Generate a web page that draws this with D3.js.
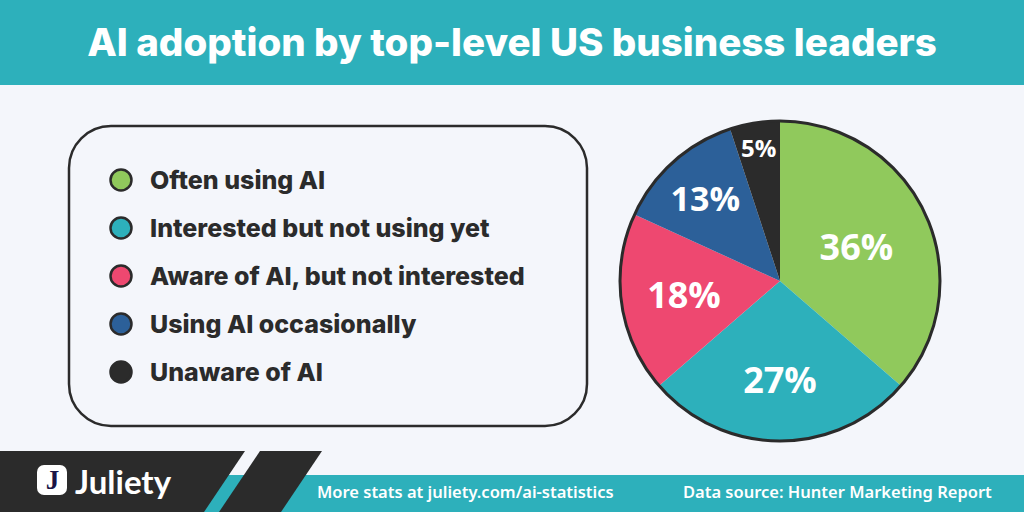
<!DOCTYPE html>
<html>
<head>
<meta charset="utf-8">
<script src="https://cdn.jsdelivr.net/npm/d3@7"></script>
<style>
  html, body { margin: 0; padding: 0; background: #f4f6fb; overflow: hidden; }
  svg { display: block; }
</style>
</head>
<body>
<svg id="chart" width="1024" height="512"></svg>
<script>
const categories = ["Often using AI", "Interested but not using yet", "Aware of AI, but not interested", "Using AI occasionally", "Unaware of AI"];
const shares = [36, 27, 18, 13, 5];
const colors = ["#90c95c", "#2db0bb", "#ee4870", "#2c6099", "#2b2b2b"];

const INK = "#2b2b2b";
const TEAL = "#2db0bb";
const center = { x: 780, y: 281 };
const radius = 160;
const labelRadius = [84, 98, 97, 112, 135];
const labelSize = [36, 36, 36, 34, 24];

const svg = d3.select("#chart");

// header
svg.append("rect").attr("width", 1024).attr("height", 85).attr("fill", TEAL);
svg.append("text")
  .attr("x", 512).attr("y", 56)
  .attr("text-anchor", "middle")
  .attr("font-family", "Inter, sans-serif")
  .attr("font-size", 38.5)
  .attr("font-weight", 800)
  .attr("fill", "#fff")
  .text("AI adoption by top-level US business leaders");

// legend box
svg.append("rect")
  .attr("x", 69).attr("y", 126)
  .attr("width", 518).attr("height", 300)
  .attr("rx", 42)
  .attr("fill", "none")
  .attr("stroke", INK)
  .attr("stroke-width", 2.5);

const rowY = d3.scalePoint().domain(categories).range([180, 372]);

const rows = svg.append("g").selectAll("g").data(categories).join("g")
  .attr("transform", d => `translate(0,${rowY(d)})`);
rows.append("circle")
  .attr("cx", 121).attr("r", 10.5)
  .attr("fill", (d, i) => colors[i])
  .attr("stroke", INK)
  .attr("stroke-width", 2.5);
rows.append("text")
  .attr("x", 150).attr("y", 9)
  .attr("font-family", "Inter, sans-serif")
  .attr("font-size", 25)
  .attr("font-weight", 800)
  .attr("fill", INK)
  .text(d => d);

// pie
const pie = d3.pie().sort(null).value(d => d);
const arc = d3.arc().innerRadius(0).outerRadius(radius);
const slices = pie(shares);
const pieG = svg.append("g").attr("transform", `translate(${center.x},${center.y})`);

pieG.selectAll("path").data(slices).join("path")
  .attr("d", arc)
  .attr("fill", (d, i) => colors[i]);
pieG.append("circle")
  .attr("r", radius)
  .attr("fill", "none")
  .attr("stroke", INK)
  .attr("stroke-width", 3);

pieG.selectAll("text").data(slices).join("text")
  .attr("transform", (d, i) => {
    const a = (d.startAngle + d.endAngle) / 2;
    return `translate(${labelRadius[i] * Math.sin(a)},${-labelRadius[i] * Math.cos(a)})`;
  })
  .attr("text-anchor", "middle")
  .attr("dominant-baseline", "central")
  .attr("font-family", "'Open Sans', sans-serif")
  .attr("font-size", (d, i) => labelSize[i])
  .attr("font-weight", 700)
  .attr("fill", "#fff")
  .text(d => d.value + "%");

// footer
svg.append("rect").attr("x", 0).attr("y", 475).attr("width", 1024).attr("height", 37).attr("fill", TEAL);
svg.append("path").attr("d", "M0,451H245L204,512H0Z").attr("fill", INK);
svg.append("path").attr("d", "M260,451H322L281,512H219Z").attr("fill", INK);

// logo
svg.append("rect")
  .attr("x", 37).attr("y", 465)
  .attr("width", 30).attr("height", 30)
  .attr("rx", 7)
  .attr("fill", "#fff");
svg.append("text")
  .attr("x", 52.5).attr("y", 489)
  .attr("text-anchor", "middle")
  .attr("font-family", "'Liberation Serif', serif")
  .attr("font-size", 27)
  .attr("font-weight", 700)
  .attr("fill", "#1a1446")
  .text("J");
svg.append("text")
  .attr("x", 75).attr("y", 494)
  .attr("font-family", "Lato, sans-serif")
  .attr("font-size", 33)
  .attr("font-weight", 700)
  .attr("fill", "#fff")
  .text("Juliety");

const footerText = svg.append("g")
  .attr("font-family", "'Noto Sans', sans-serif")
  .attr("font-size", 16.5)
  .attr("font-weight", 600)
  .attr("fill", "#fff");
footerText.append("text").attr("x", 317).attr("y", 498).text("More stats at juliety.com/ai-statistics");
footerText.append("text").attr("x", 683).attr("y", 498).text("Data source: Hunter Marketing Report");
</script>
</body>
</html>
